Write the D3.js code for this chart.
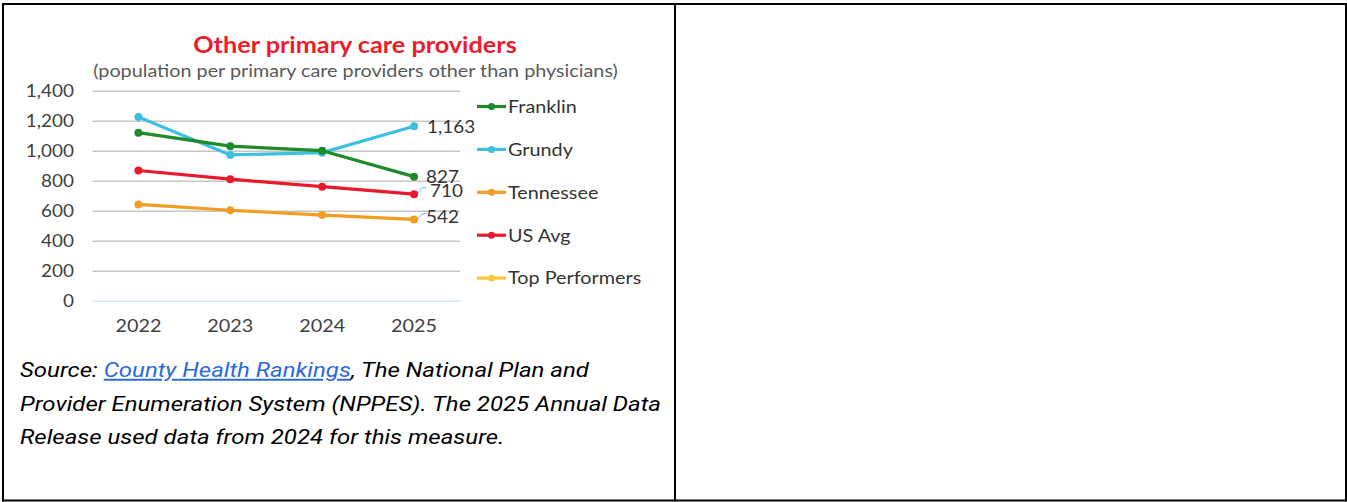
<!DOCTYPE html>
<html>
<head>
<meta charset="utf-8">
<script src="https://cdn.jsdelivr.net/npm/d3@7"></script>
<style>
  html, body { margin: 0; padding: 0; background: #fff; }
  svg { display: block; }
</style>
</head>
<body>
<svg id="chart" width="1347" height="502"></svg>
<script>
const years = ["2022", "2023", "2024", "2025"];
const franklin = [1120, 1030, 1000, 827];
const grundy = [1225, 972, 987, 1163];
const tennessee = [642, 603, 571, 542];
const usAvg = [868, 810, 760, 710];
const topPerformers = [null, null, null, null];
const yTicks = [0, 200, 400, 600, 800, 1000, 1200, 1400];
const seriesNames = ["Franklin", "Grundy", "Tennessee", "US Avg", "Top Performers"];
const seriesColors = ["#1f8a28", "#3dbfe0", "#f39c1f", "#e8192c", "#fdc73a"];
const titleText = "Other primary care providers";
const subtitleText = "(population per primary care providers other than physicians)";

const seriesValues = [franklin, grundy, tennessee, usAvg, topPerformers];
const series = seriesNames.map((name, i) => ({
  name, color: seriesColors[i],
  points: years.map((y, j) => ({ year: y, value: seriesValues[i][j] }))
}));

const svg = d3.select("#chart");

function stretch(sel, f) {
  sel.each(function () {
    const w = this.getComputedTextLength();
    d3.select(this).attr("textLength", w * f).attr("lengthAdjust", "spacingAndGlyphs");
  });
}

// table borders
const border = svg.append("g").attr("stroke", "#000").attr("stroke-width", 2);
border.append("line").attr("x1", 2).attr("x2", 1347).attr("y1", 4).attr("y2", 4);
border.append("line").attr("x1", 2).attr("x2", 1347).attr("y1", 500.5).attr("y2", 500.5);
border.append("line").attr("x1", 3).attr("x2", 3).attr("y1", 3).attr("y2", 501.5);
border.append("line").attr("x1", 1346).attr("x2", 1346).attr("y1", 3).attr("y2", 501.5);
border.append("line").attr("x1", 675).attr("x2", 675).attr("y1", 3).attr("y2", 501.5);

const x = d3.scaleBand().domain(years).range([92.5, 460]);
const y = d3.scaleLinear().domain([0, 1400]).range([300.7, 90.7]);
const cx = d => x(d) + x.bandwidth() / 2;

const font = "Lato, 'Open Sans', sans-serif";
const SX = 1.1;

// title
const tt = svg.append("text").attr("x", 355).attr("y", 52.5).attr("text-anchor", "middle")
  .attr("font-family", font).attr("font-weight", "bold").attr("font-size", 22.5)
  .attr("fill", "#ec1c2c").text(titleText);
stretch(tt, 1.12);
const st = svg.append("text").attr("x", 355.5).attr("y", 77).attr("text-anchor", "middle")
  .attr("font-family", font).attr("font-size", 17.5)
  .attr("fill", "#595959").text(subtitleText);
stretch(st, 1.13);

// gridlines
const grid = d3.axisLeft(y).tickValues(yTicks).tickSize(-(460 - 92.5)).tickFormat("");
const gg = svg.append("g").attr("transform", "translate(92.5,0)").call(grid);
gg.select(".domain").remove();
gg.selectAll(".tick line").attr("stroke", d => d === 0 ? "#cfe8f3" : "#c6c6c6").attr("stroke-width", 1.6);

// y axis labels
const ya = d3.axisLeft(y).tickValues(yTicks).tickSize(0).tickPadding(0).tickFormat(d3.format(","));
const yg = svg.append("g").attr("transform", "translate(74,0)").call(ya);
yg.select(".domain").remove();
yg.selectAll("text").attr("font-family", font).attr("font-size", 18).attr("fill", "#404040");
stretch(yg.selectAll("text"), 1.05);

// x axis labels
const xa = d3.axisBottom(x).tickSize(0).tickPadding(0);
const xg = svg.append("g").attr("transform", "translate(0,319)").call(xa);
xg.select(".domain").remove();
xg.selectAll("text").attr("font-family", font).attr("font-size", 18).attr("fill", "#404040");
stretch(xg.selectAll("text"), SX);

// lines
const line = d3.line().defined(d => d.value != null).x(d => cx(d.year)).y(d => y(d.value));
const sg = svg.append("g");
series.slice().reverse().forEach(s => {
  sg.append("path").datum(s.points).attr("d", line).attr("fill", "none")
    .attr("stroke", s.color).attr("stroke-width", 3.2).attr("stroke-linejoin", "round");
  sg.selectAll(null).data(s.points.filter(d => d.value != null)).enter().append("circle")
    .attr("cx", d => cx(d.year)).attr("cy", d => y(d.value)).attr("r", 4).attr("fill", s.color);
});

// data labels for last year
const fmt = d3.format(",");
const labelOffsets = { "Grundy": [13, 0, false], "Franklin": [12, 0, false], "US Avg": [16, -4, true], "Tennessee": [12, -3, true] };
series.forEach(s => {
  const off = labelOffsets[s.name];
  const last = s.points[s.points.length - 1];
  if (!off || last.value == null) return;
  const px = cx(last.year), py = y(last.value);
  if (off[2]) {
    svg.append("path")
      .attr("d", `M${px + 4},${py - 1} L${px + 7},${py + off[1] - 2} L${px + 12},${py + off[1] - 3}`)
      .attr("fill", "none").attr("stroke", "#5bc5ea").attr("stroke-width", 1);
  }
  const t = svg.append("text").attr("x", px + off[0]).attr("y", py + off[1]).attr("dy", "0.35em")
    .attr("font-family", font).attr("font-size", 18).attr("fill", "#333")
    .text(fmt(last.value));
  stretch(t, 1.05);
});

// legend
const lg = svg.append("g").attr("transform", "translate(477,106.5)");
series.forEach((s, i) => {
  const g = lg.append("g").attr("transform", `translate(0,${i * 42.9})`);
  g.append("line").attr("x1", 0).attr("x2", 29).attr("y1", 0).attr("y2", 0)
    .attr("stroke", s.color).attr("stroke-width", 3.2);
  g.append("circle").attr("cx", 14.5).attr("cy", 0).attr("r", 3.5).attr("fill", s.color);
  const t = g.append("text").attr("x", 31).attr("y", 0).attr("dy", "0.35em")
    .attr("font-family", font).attr("font-size", 18).attr("fill", "#333").text(s.name);
  stretch(t, SX);
});

// source note (wide italic text)
const srcG = svg.append("g").attr("transform", "translate(20,0) scale(1.23,1)");
const src = srcG.append("text").attr("font-family", "Roboto, sans-serif").attr("font-style", "italic")
  .attr("font-size", 19.5).attr("fill", "#000");
const l1 = src.append("tspan").attr("x", 0).attr("y", 377);
l1.append("tspan").text("Source: ");
l1.append("tspan").attr("fill", "#2a6ad9").attr("text-decoration", "underline").text("County Health Rankings");
l1.append("tspan").text(", The National Plan and");
src.append("tspan").attr("x", 0).attr("y", 411).text("Provider Enumeration System (NPPES). The 2025 Annual Data");
src.append("tspan").attr("x", 0).attr("y", 444).text("Release used data from 2024 for this measure.");
</script>
</body>
</html>
